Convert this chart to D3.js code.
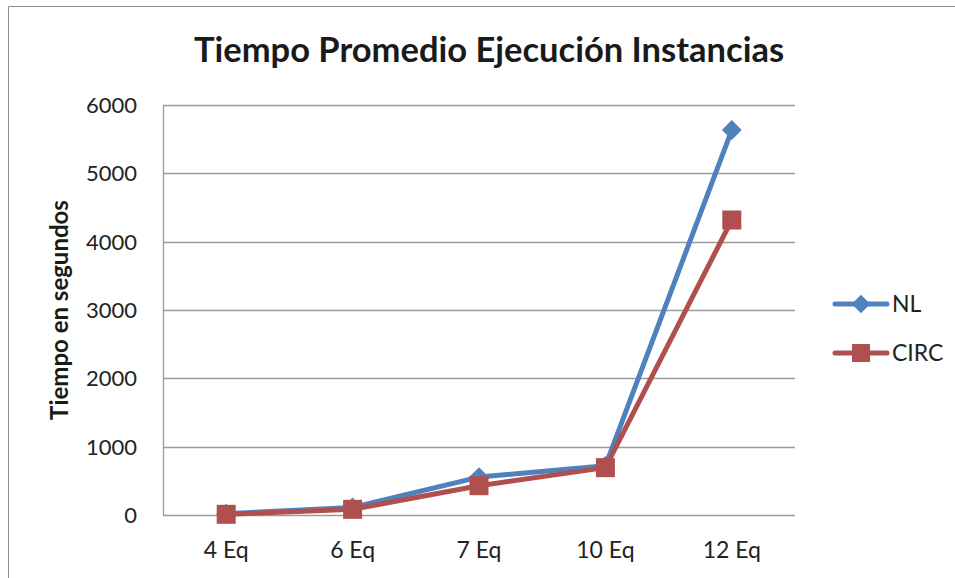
<!DOCTYPE html>
<html><head><meta charset="utf-8">
<script src="https://cdn.jsdelivr.net/npm/d3@7"></script>
<style>body{margin:0;background:#fff}svg{display:block}</style>
</head><body>
<svg id="c" width="955" height="578"></svg>
<script>
const categories = ["4 Eq","6 Eq","7 Eq","10 Eq","12 Eq"];
const nlValues = [20, 110, 555, 720, 5634];
const circValues = [10, 83, 429, 693, 4317];
const yTicks = [0,1000,2000,3000,4000,5000,6000];
const seriesNames = ["NL","CIRC"];
const seriesColors = ["#4F81BD","#B0504E"];

const svg = d3.select("#c");
const font = "Lato, 'Open Sans', sans-serif";
svg.append("path").attr("d","M8.5,578 L8.5,6.5 L955,6.5").attr("fill","none").attr("stroke","#8c8c8c").attr("stroke-width",1);

const pL=163, pR=795, pT=105, pB=515;
const x = d3.scaleBand().domain(categories).range([pL,pR]);
const y = d3.scaleLinear().domain([0,6000]).range([pB,pT]);

svg.append("g").selectAll("line").data(yTicks).join("line")
  .attr("x1",pL).attr("x2",pR).attr("y1",d=>Math.round(y(d))+0.5).attr("y2",d=>Math.round(y(d))+0.5)
  .attr("stroke","#9a9a9a").attr("stroke-width",1.3);
svg.append("line").attr("x1",pL+0.5).attr("x2",pL+0.5).attr("y1",pT).attr("y2",pB+0.5)
  .attr("stroke","#9a9a9a").attr("stroke-width",1.3);

svg.append("g").selectAll("text").data(yTicks).join("text")
  .attr("x",137).attr("y",d=>y(d)).attr("dy","0.36em").attr("text-anchor","end")
  .attr("font-family",font).attr("font-size",22).attr("fill","#222").text(d=>d);
svg.append("g").selectAll("text").data(categories).join("text")
  .attr("x",d=>x(d)+x.bandwidth()/2).attr("y",558).attr("text-anchor","middle")
  .attr("font-family",font).attr("font-size",23).attr("fill","#222").text(d=>d);

svg.append("text").attr("x",489).attr("y",62).attr("text-anchor","middle")
  .attr("font-family",font).attr("font-weight","bold").attr("font-size",34.5).attr("fill","#1a1a1a")
  .text("Tiempo Promedio Ejecución Instancias");
svg.append("text").attr("transform","translate(68,310) rotate(-90)").attr("text-anchor","middle")
  .attr("font-family",font).attr("font-weight","bold").attr("font-size",24).attr("fill","#1a1a1a")
  .text("Tiempo en segundos");

const line = d3.line().x((d,i)=>x(categories[i])+x.bandwidth()/2).y(d=>y(d));
const diamond = d3.symbol().type(d3.symbolDiamond2).size(250);
const square = d3.symbol().type(d3.symbolSquare).size(361);
const legDiamond = d3.symbol().type(d3.symbolDiamond2).size(220);
const legSquare = d3.symbol().type(d3.symbolSquare).size(324);

const series = [nlValues, circValues];
series.forEach((vals,si)=>{
  svg.append("path").datum(vals).attr("d",line).attr("fill","none")
    .attr("stroke",seriesColors[si]).attr("stroke-width",5).attr("stroke-linejoin","round").attr("stroke-linecap","round");
  svg.append("g").selectAll("path").data(vals).join("path")
    .attr("transform",(d,i)=>`translate(${x(categories[i])+x.bandwidth()/2},${y(d)})`)
    .attr("d",si===0?diamond:square).attr("fill",seriesColors[si]);
});

const legY = [304, 353];
seriesNames.forEach((n,i)=>{
  svg.append("line").attr("x1",835).attr("x2",887).attr("y1",legY[i]).attr("y2",legY[i])
    .attr("stroke",seriesColors[i]).attr("stroke-width",5).attr("stroke-linecap","round");
  svg.append("path").attr("transform",`translate(861,${legY[i]})`).attr("d",i===0?legDiamond:legSquare).attr("fill",seriesColors[i]);
  svg.append("text").attr("x",892).attr("y",legY[i]).attr("dy","0.36em")
    .attr("font-family",font).attr("font-size",23).attr("fill","#222").text(n);
});
</script>
</body></html>
